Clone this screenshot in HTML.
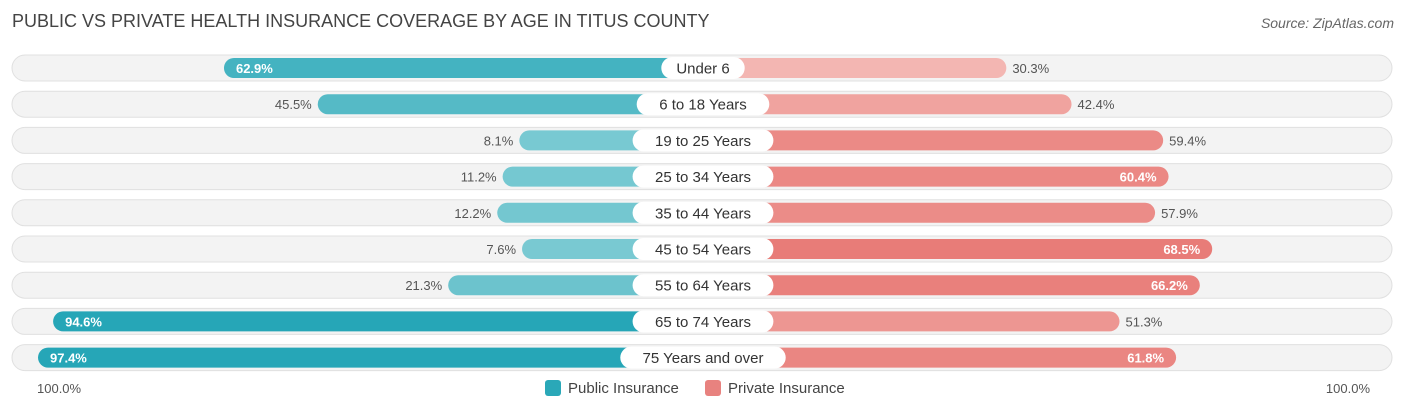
<!DOCTYPE html>
<html><head><meta charset="utf-8"><style>
body{margin:0;width:1406px;height:414px;background:#fff;font-family:"Liberation Sans",sans-serif;overflow:hidden;position:relative}
.t{position:absolute;white-space:nowrap}
</style></head><body>
<div class="t" style="left:12px;top:11px;font-size:18px;color:#444">PUBLIC VS PRIVATE HEALTH INSURANCE COVERAGE BY AGE IN TITUS COUNTY</div>
<div class="t" style="right:12px;top:15px;font-size:14px;color:#666;font-style:italic">Source: ZipAtlas.com</div>
<svg id="c" width="1406" height="414" style="position:absolute;left:0;top:0"></svg>
<script>
const categories=["Under 6","6 to 18 Years","19 to 25 Years","25 to 34 Years","35 to 44 Years","45 to 54 Years","55 to 64 Years","65 to 74 Years","75 Years and over"];
const publicVals=[62.9,45.5,8.1,11.2,12.2,7.6,21.3,94.6,97.4];
const privateVals=[30.3,42.4,59.4,60.4,57.9,68.5,66.2,51.3,61.8];
const svg=document.getElementById('c');const NS='http://www.w3.org/2000/svg';
const cx=703,off=140,k=5.39,y0=68,dy=36.2;
function xl(v){return cx-off-v*k}function xr(v){return cx+off+v*k}
function mk(t,a){const e=document.createElementNS(NS,t);for(const q in a)e.setAttribute(q,a[q]);svg.appendChild(e);return e}
function mix(a,b,t){return 'rgb('+a.map((c,i)=>Math.round(c+(b[i]-c)*t)).join(',')+')'}
categories.forEach((c,i)=>{
 const y=y0+i*dy;
 const bg=mk('rect',{x:12,y:y-13,width:1380,height:26,rx:13,fill:'#f3f3f3',stroke:'#e0e0e0'});
 
 const pv=publicVals[i],rv=privateVals[i];
 const pb=mk('rect',{x:xl(pv),y:y-10,width:cx-xl(pv),height:20,rx:10,fill:mix([128,204,212],[38,166,183],Math.min(1,pv/95))});
 
 const rb=mk('rect',{x:cx,y:y-10,width:xr(rv)-cx,height:20,rx:10,fill:mix([243,182,178],[232,122,118],Math.min(1,Math.max(0,(rv-30)/40)))});
 
 const w=c.length*8.2+26;
 const lp=mk('rect',{x:cx-w/2,y:y-11,width:w,height:22,rx:11,fill:'#fff'});
 
 const lt=mk('text',{x:cx,y:y+5.5,'text-anchor':'middle','font-size':15,fill:'#333'});lt.textContent=c;
 
 const pin=pv>55;
 const pt=mk('text',{x:pin?xl(pv)+12:xl(pv)-6,y:y+5,'text-anchor':pin?'start':'end','font-size':13,fill:pin?'#fff':'#555','font-weight':pin?'bold':'normal'});pt.textContent=pv.toFixed(1)+'%';
 
 const rin=rv>60;
 const rt=mk('text',{x:rin?xr(rv)-12:xr(rv)+6,y:y+5,'text-anchor':rin?'end':'start','font-size':13,fill:rin?'#fff':'#555','font-weight':rin?'bold':'normal'});rt.textContent=rv.toFixed(1)+'%';
 
});
</script>
<div class="t" style="left:37px;top:381px;font-size:13px;color:#555">100.0%</div>
<div class="t" style="right:36px;top:381px;font-size:13px;color:#555">100.0%</div>
<div class="t" style="left:545px;top:380px;font-size:15px;color:#444"><span style="display:inline-block;width:16px;height:16px;background:#2aa8b8;border-radius:3px;vertical-align:-3px;margin-right:7px"></span>Public Insurance</div>
<div class="t" style="left:705px;top:380px;font-size:15px;color:#444"><span style="display:inline-block;width:16px;height:16px;background:#e8827f;border-radius:3px;vertical-align:-3px;margin-right:7px"></span>Private Insurance</div>
</body></html>
